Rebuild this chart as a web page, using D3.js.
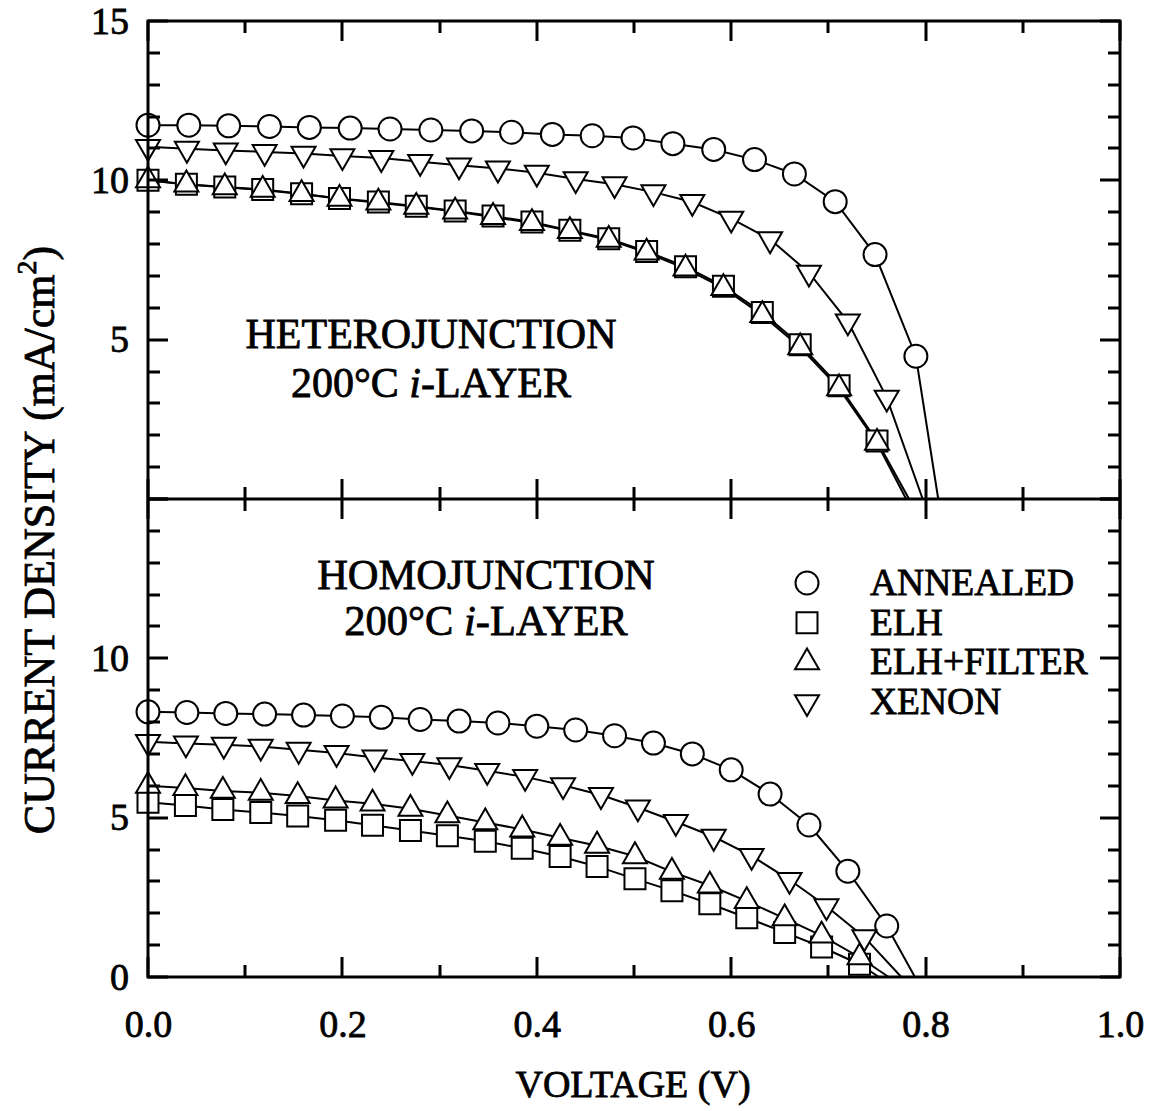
<!DOCTYPE html>
<html>
<head>
<meta charset="utf-8">
<script src="https://cdn.jsdelivr.net/npm/d3@7"></script>
<style>
body { margin: 0; background: #fff; }
svg text { font-family: "Liberation Serif", "Times New Roman", serif; fill: #000; }
</style>
</head>
<body>
<div id="chart"></div>
<script>
// J-V curves. Last point of each curve is Voc (J = 0, no marker)
var seriesNames = ['ANNEALED', 'ELH', 'ELH+FILTER', 'XENON'];
var seriesSymbols = ['circle', 'square', 'triangleUp', 'triangleDown'];

// heterojunction (upper panel)
var heteroAnnealedV = [0, 0.042, 0.083, 0.125, 0.166, 0.208, 0.249, 0.291, 0.333, 0.374, 0.416, 0.457, 0.499, 0.540, 0.582, 0.624, 0.665, 0.707, 0.748, 0.790, 0.813];
var heteroAnnealedJ = [11.73, 11.73, 11.71, 11.69, 11.66, 11.64, 11.61, 11.58, 11.55, 11.51, 11.44, 11.40, 11.33, 11.15, 10.97, 10.65, 10.20, 9.33, 7.67, 4.48, 0];
var heteroElhV = [0, 0.0395, 0.079, 0.118, 0.158, 0.197, 0.237, 0.276, 0.316, 0.355, 0.395, 0.434, 0.474, 0.513, 0.553, 0.592, 0.632, 0.671, 0.711, 0.750, 0.783];
var heteroElhJ = [10.0, 9.88, 9.79, 9.71, 9.58, 9.43, 9.32, 9.19, 9.04, 8.88, 8.69, 8.43, 8.17, 7.77, 7.29, 6.68, 5.85, 4.84, 3.55, 1.82, 0];
var heteroFilterV = [0, 0.0395, 0.079, 0.118, 0.158, 0.197, 0.237, 0.276, 0.316, 0.355, 0.395, 0.434, 0.474, 0.513, 0.553, 0.592, 0.632, 0.671, 0.711, 0.750, 0.780];
var heteroFilterJ = [10.0, 9.87, 9.78, 9.70, 9.57, 9.42, 9.30, 9.17, 9.02, 8.85, 8.66, 8.41, 8.13, 7.73, 7.23, 6.62, 5.77, 4.76, 3.47, 1.76, 0];
var heteroXenonV = [0, 0.040, 0.080, 0.120, 0.160, 0.200, 0.240, 0.280, 0.320, 0.360, 0.400, 0.440, 0.480, 0.520, 0.560, 0.600, 0.640, 0.680, 0.720, 0.760, 0.797];
var heteroXenonJ = [11.05, 10.99, 10.94, 10.89, 10.84, 10.76, 10.70, 10.58, 10.47, 10.37, 10.24, 10.04, 9.88, 9.63, 9.32, 8.80, 8.15, 7.10, 5.57, 3.18, 0];

// homojunction (lower panel)
var homoAnnealedV = [0, 0.04, 0.08, 0.12, 0.16, 0.20, 0.24, 0.28, 0.32, 0.36, 0.40, 0.44, 0.48, 0.52, 0.56, 0.60, 0.64, 0.68, 0.72, 0.76, 0.789];
var homoAnnealedJ = [8.32, 8.30, 8.27, 8.25, 8.22, 8.19, 8.15, 8.08, 8.03, 7.97, 7.87, 7.75, 7.57, 7.34, 7.00, 6.50, 5.74, 4.77, 3.32, 1.60, 0];
var homoElhV = [0, 0.0385, 0.077, 0.116, 0.154, 0.193, 0.231, 0.270, 0.308, 0.347, 0.385, 0.424, 0.462, 0.501, 0.539, 0.578, 0.616, 0.655, 0.693, 0.732, 0.752];
var homoElhJ = [5.48, 5.38, 5.26, 5.16, 5.05, 4.92, 4.76, 4.60, 4.43, 4.26, 4.04, 3.78, 3.47, 3.08, 2.71, 2.30, 1.86, 1.40, 0.94, 0.40, 0];
var homoFilterV = [0, 0.0385, 0.077, 0.116, 0.154, 0.193, 0.231, 0.270, 0.308, 0.347, 0.385, 0.424, 0.462, 0.501, 0.539, 0.578, 0.616, 0.655, 0.693, 0.732, 0.762];
var homoFilterJ = [6.00, 5.93, 5.84, 5.78, 5.68, 5.54, 5.44, 5.28, 5.07, 4.85, 4.63, 4.37, 4.12, 3.79, 3.30, 2.87, 2.38, 1.84, 1.30, 0.62, 0];
var homoXenonV = [0, 0.039, 0.078, 0.116, 0.155, 0.194, 0.233, 0.272, 0.310, 0.349, 0.388, 0.427, 0.466, 0.504, 0.543, 0.582, 0.621, 0.660, 0.698, 0.737, 0.775];
var homoXenonJ = [7.38, 7.33, 7.29, 7.23, 7.13, 7.03, 6.89, 6.78, 6.65, 6.47, 6.28, 6.02, 5.71, 5.32, 4.87, 4.40, 3.80, 3.05, 2.22, 1.25, 0];

// ticks
var xMajorTicks = [0, 0.2, 0.4, 0.6, 0.8, 1.0];
var xMinorTicks = [0.1, 0.3, 0.5, 0.7, 0.9];
var yMajorTicks = [0, 5, 10, 15];
var yMinorTicks = [1, 2, 3, 4, 6, 7, 8, 9, 11, 12, 13, 14];
var heteroYLabels = [5, 10, 15];
var homoYLabels = [0, 5, 10];

(function(){
var width = 1151, height = 1111;
var plotLeft = 148, plotRight = 1120, plotTop = 21, plotMid = 499, plotBottom = 977;
var majorLen = 20, minorLen = 12, tickW = 3;
var serif = '"Liberation Serif", "Times New Roman", serif';

var svg = d3.select('#chart').append('svg')
    .attr('width', width)
    .attr('height', height);

var x = d3.scaleLinear().domain([0, 1]).range([plotLeft, plotRight]);
var yHetero = d3.scaleLinear().domain([0, 15]).range([plotMid, plotTop]);
var yHomo = d3.scaleLinear().domain([0, 15]).range([plotBottom, plotMid]);

function zip(v, j){
    return v.map(function(d, i){ return {v: d, j: j[i]}; });
}

var panels = [
    {y: yHetero, labels: heteroYLabels, yTop: plotTop, yBottom: plotMid,
     series: [zip(heteroAnnealedV, heteroAnnealedJ), zip(heteroElhV, heteroElhJ),
              zip(heteroFilterV, heteroFilterJ), zip(heteroXenonV, heteroXenonJ)]},
    {y: yHomo, labels: homoYLabels, yTop: plotMid, yBottom: plotBottom,
     series: [zip(homoAnnealedV, homoAnnealedJ), zip(homoElhV, homoElhJ),
              zip(homoFilterV, homoFilterJ), zip(homoXenonV, homoXenonJ)]}
];

function symbolPath(type){
    var p = d3.path();
    if(type === 'circle'){
        p.arc(0, 0, 11.5, 0, 2 * Math.PI);
    }
    else if(type === 'square'){
        p.rect(-10.5, -10.5, 21, 21);
    }
    else{
        var s = 24, h = s * Math.sqrt(3) / 2;
        var k = type === 'triangleUp' ? 1 : -1;
        p.moveTo(0, -k * 2 * h / 3);
        p.lineTo(s / 2, k * h / 3);
        p.lineTo(-s / 2, k * h / 3);
        p.closePath();
    }
    return p.toString();
}

function labelStyle(sel, size){
    sel.attr('font-family', serif)
        .attr('font-size', size)
        .attr('fill', '#000')
        .attr('stroke', '#000')
        .attr('stroke-width', 0.8);
}

// inward tick marks as small filled bars, placed with the scales
var tickRects = [];
function addTicks(values, len, side){
    values.forEach(function(d){
        var c = Math.round(side.scale(d));
        if(side.vertical){
            tickRects.push({x: side.dir > 0 ? side.at : side.at - len, y: c - tickW / 2, w: len, h: tickW});
        }
        else{
            tickRects.push({x: c - tickW / 2, y: side.dir > 0 ? side.at : side.at - len, w: tickW, h: len});
        }
    });
}

// draw order: squares before triangles so the triangles sit on top
var drawOrder = [0, 3, 1, 2];

panels.forEach(function(panel){
    var y = panel.y;
    var g = svg.append('g');

    var sides = [
        {scale: y, vertical: true, at: plotLeft, dir: 1},
        {scale: y, vertical: true, at: plotRight, dir: -1},
        {scale: x, vertical: false, at: panel.yTop, dir: 1},
        {scale: x, vertical: false, at: panel.yBottom, dir: -1}
    ];
    sides.forEach(function(s){
        addTicks(s.vertical ? yMinorTicks : xMinorTicks, minorLen, s);
        addTicks(s.vertical ? yMajorTicks : xMajorTicks, majorLen, s);
    });

    // y tick labels
    g.append('g').attr('transform', 'translate(' + plotLeft + ',0)')
        .call(d3.axisLeft(y).tickValues(panel.labels).tickSize(0).tickPadding(19))
        .call(function(a){
            a.select('.domain').remove();
            labelStyle(a.selectAll('text'), 38);
        });

    var line = d3.line()
        .x(function(d){ return x(d.v); })
        .y(function(d){ return y(d.j); });

    drawOrder.forEach(function(si){
        g.append('path')
            .datum(panel.series[si])
            .attr('d', line)
            .attr('fill', 'none')
            .attr('stroke', '#000')
            .attr('stroke-width', 2);
    });
    drawOrder.forEach(function(si){
        var data = panel.series[si].filter(function(d){ return d.j > 0; });
        g.selectAll(null)
            .data(data)
            .enter().append('path')
            .attr('d', symbolPath(seriesSymbols[si]))
            .attr('transform', function(d){ return 'translate(' + x(d.v) + ',' + y(d.j) + ')'; })
            .attr('fill', '#fff')
            .attr('stroke', '#000')
            .attr('stroke-width', 2);
    });
});

// x tick labels under the lower panel
svg.append('g').attr('transform', 'translate(0,' + plotBottom + ')')
    .call(d3.axisBottom(x).tickValues(xMajorTicks).tickSize(0).tickPadding(33)
        .tickFormat(d3.format('.1f')))
    .call(function(a){
        a.select('.domain').remove();
        labelStyle(a.selectAll('text'), 38);
    });

// panel captions
function caption(cx, y1, y2, size, first){
    var t = svg.append('g')
        .attr('font-size', size)
        .attr('text-anchor', 'middle');
    labelStyle(t.append('text').attr('x', cx).attr('y', y1).text(first), size);
    var l2 = t.append('text').attr('x', cx).attr('y', y2);
    labelStyle(l2, size);
    l2.append('tspan').text('200°C ');
    l2.append('tspan').attr('font-style', 'italic').text('i');
    l2.append('tspan').text('-LAYER');
}
caption(431, 348, 397, 42, 'HETEROJUNCTION');
caption(486, 589, 635, 42.5, 'HOMOJUNCTION');

// legend
var legend = svg.append('g');
seriesNames.forEach(function(name, i){
    var cy = 583 + i * 39.7;
    legend.append('path')
        .attr('d', symbolPath(seriesSymbols[i]))
        .attr('transform', 'translate(807,' + cy + ')')
        .attr('fill', '#fff').attr('stroke', '#000').attr('stroke-width', 2);
    labelStyle(legend.append('text')
        .attr('x', 870).attr('y', cy + 12)
        .text(name), 37.5);
});

// axis titles
labelStyle(svg.append('text')
    .attr('x', (plotLeft + plotRight) / 2 - 1).attr('y', 1097)
    .attr('text-anchor', 'middle')
    .text('VOLTAGE (V)'), 38);

var yTitle = svg.append('text')
    .attr('transform', 'translate(54,540) rotate(-90)')
    .attr('text-anchor', 'middle');
labelStyle(yTitle, 44);
yTitle.append('tspan').text('CURRENT DENSITY (mA/cm');
yTitle.append('tspan').attr('font-size', 28).attr('dy', -18).text('2');
yTitle.append('tspan').attr('dy', 18).text(')');

// frame, panel divider and tick marks on top of everything
svg.append('rect')
    .attr('x', plotLeft).attr('y', plotTop)
    .attr('width', plotRight - plotLeft).attr('height', plotBottom - plotTop)
    .attr('fill', 'none').attr('stroke', '#000').attr('stroke-width', 3);
svg.append('rect')
    .attr('x', plotLeft).attr('y', plotMid - 1.5)
    .attr('width', plotRight - plotLeft).attr('height', 3)
    .attr('fill', '#000');
svg.append('g').selectAll('rect')
    .data(tickRects)
    .enter().append('rect')
    .attr('x', function(d){ return d.x; })
    .attr('y', function(d){ return d.y; })
    .attr('width', function(d){ return d.w; })
    .attr('height', function(d){ return d.h; })
    .attr('fill', '#000');
})();
</script>
</body>
</html>
